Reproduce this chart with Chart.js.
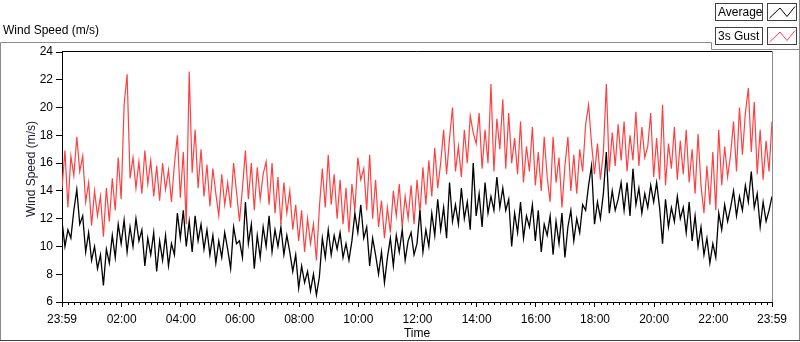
<!DOCTYPE html>
<html>
<head>
<meta charset="utf-8">
<script src="https://cdn.jsdelivr.net/npm/chart.js@4/dist/chart.umd.min.js"></script>
<style>
body { margin: 0; background: #fff; }
canvas { display: block; }
</style>
</head>
<body>
<canvas id="windChart" width="800" height="342"></canvas>
<script>
// samples every 6 minutes, starting at 23:59
const STEP = 6;

const tickTimes = [0, 121, 241, 361, 481, 601, 721, 841, 961, 1081, 1201, 1321, 1440];
const tickLabels = ["23:59", "02:00", "04:00", "06:00", "08:00", "10:00", "12:00",
                    "14:00", "16:00", "18:00", "20:00", "22:00", "23:59"];

// 3 second gust (m/s)
const gust = [
    14.2, 16.9, 12.8, 16.5, 15.1, 17.9, 15.4, 16.5, 13.2, 14.6,
    11.5, 14.0, 12.2, 13.6, 10.7, 14.2, 11.8, 14.9, 12.6, 16.4,
    13.4, 20.2, 22.4, 14.9, 16.4, 14.2, 16.1, 13.8, 16.9, 14.5,
    16.2, 13.6, 15.8, 13.3, 16.0, 14.1, 15.5, 13.2, 15.9, 18.0,
    13.5, 16.8, 11.6, 22.6, 15.3, 18.4, 14.2, 17.0, 13.6, 15.9,
    12.9, 15.6, 13.8, 12.2, 15.2, 13.0, 14.6, 12.8, 16.0, 13.9,
    11.8, 14.2, 16.9, 13.4, 16.0, 12.6, 15.7, 13.4, 15.2, 16.1,
    13.0, 16.0, 12.4, 15.0, 11.6, 14.6, 12.4, 14.0, 11.2, 13.0,
    10.4, 12.6, 9.6, 12.0, 10.2, 11.6, 9.0, 12.8, 15.6, 12.8,
    16.6, 13.0, 15.2, 12.0, 14.8, 11.6, 14.2, 11.0, 14.5, 12.6,
    16.4, 14.8, 15.6, 12.6, 16.6, 12.0, 14.8, 11.4, 13.3, 10.6,
    12.8, 11.0, 14.0, 12.2, 14.5, 11.4, 13.6, 12.0, 14.4, 11.6,
    14.8, 12.4, 15.7, 13.0, 16.2, 13.6, 17.1, 14.2, 16.0, 18.4,
    15.2, 17.8, 20.0, 15.4, 17.2, 15.0, 18.4, 16.0, 19.4, 18.2,
    17.4, 19.6, 15.6, 18.4, 16.0, 21.7, 15.4, 19.2, 17.0, 20.6,
    15.6, 19.6, 16.0, 17.8, 15.2, 19.0, 14.6, 17.2, 15.4, 18.6,
    14.4, 16.8, 14.0, 17.9, 15.0, 13.2, 17.9, 14.6, 16.4, 12.8,
    15.8, 17.9, 14.0, 16.6, 13.8, 17.0, 15.4, 18.8, 20.2, 17.4,
    15.2, 17.4, 14.8, 16.8, 21.7, 15.4, 18.2, 15.8, 18.8, 16.2,
    19.0, 15.4, 18.0, 16.2, 19.7, 15.8, 18.6, 16.4, 17.2, 19.6,
    15.0, 17.8, 14.8, 20.2, 14.4, 17.4, 15.6, 18.6, 14.8, 17.6,
    15.2, 18.4, 14.6, 17.0, 13.8, 18.1, 14.4, 12.4, 15.8, 13.0,
    16.8, 12.6, 18.4, 14.4, 17.2, 15.0, 16.6, 19.0, 15.4, 20.0,
    16.6, 19.6, 21.4, 16.8, 20.4, 15.2, 18.4, 14.8, 17.6, 15.4,
    19.0
];

// average wind speed (m/s)
const average = [
    11.8, 10.0, 11.2, 10.6, 12.6, 14.1, 11.6, 12.2, 9.6, 11.0,
    9.0, 10.0, 8.4, 9.4, 7.2, 9.8, 8.8, 10.8, 9.2, 11.6,
    10.2, 11.9, 9.6, 11.4, 10.0, 12.0, 10.4, 11.2, 8.6, 10.6,
    9.4, 11.0, 8.2, 10.4, 9.0, 10.8, 8.6, 10.2, 9.4, 12.4,
    10.6, 12.6, 10.0, 11.8, 9.6, 12.2, 10.4, 11.6, 9.8, 11.2,
    9.4, 10.8, 8.8, 10.4, 9.2, 11.0, 9.8, 8.4, 11.4, 10.2,
    10.4, 9.2, 13.2, 10.2, 11.6, 8.4, 10.8, 9.2, 11.4, 10.0,
    12.2, 9.6, 11.2, 10.0, 11.4, 9.4, 10.8, 9.6, 8.2, 9.4,
    7.0, 8.6, 7.4, 8.2, 6.8, 8.0, 6.5, 7.8, 10.6, 9.2,
    11.2, 9.4, 10.8, 9.8, 11.0, 9.2, 10.2, 9.0, 10.4, 12.4,
    11.0, 13.0, 10.6, 11.4, 8.6, 10.6, 9.4, 8.0, 9.6, 7.4,
    9.2, 10.6, 8.6, 10.8, 9.6, 11.2, 9.0, 10.4, 11.0, 9.4,
    10.2, 12.6, 9.6, 11.2, 10.0, 12.4, 10.8, 13.4, 11.2, 12.8,
    10.6, 14.6, 11.8, 13.0, 11.6, 14.2, 12.0, 13.2, 11.2, 16.0,
    12.2, 13.8, 11.4, 14.6, 12.4, 13.6, 12.6, 15.0, 12.8, 14.2,
    12.6, 13.4, 10.0, 12.4, 11.0, 13.2, 10.6, 12.2, 11.4, 13.0,
    10.4, 12.6, 9.6, 11.6, 10.8, 12.2, 9.4, 11.8, 10.2, 12.4,
    9.2, 11.4, 12.6, 10.4, 12.0, 11.0, 13.0, 12.6, 14.4, 15.8,
    11.6, 13.2, 12.0, 13.8, 16.8, 12.4, 14.0, 12.6, 13.4, 14.6,
    12.6, 14.6, 12.2, 15.6, 13.0, 14.2, 12.4, 13.8, 12.8, 14.4,
    13.2, 14.6, 12.8, 10.2, 13.4, 11.4, 12.8, 11.8, 13.6, 12.0,
    12.8, 11.0, 13.2, 10.4, 12.2, 10.0, 11.4, 9.4, 10.6, 8.8,
    10.2, 9.2, 12.4, 11.2, 13.0, 11.8, 12.8, 14.0, 12.2, 13.6,
    12.6, 14.4, 13.2, 15.4, 12.8, 13.8, 11.4, 13.2, 11.8, 12.6,
    13.6
];

const FONT = "'Liberation Sans', Arial, sans-serif";
Chart.defaults.font.family = FONT;
Chart.defaults.font.size = 12;
Chart.defaults.color = "#000";

function toPoints(values) {
    return values.map((v, i) => ({ x: i * STEP, y: v }));
}

// frame, minor ticks, legend and y title (LabVIEW style)
const framePlugin = {
    id: "frame",
    afterDraw(chart) {
        const ctx = chart.ctx;
        const area = chart.chartArea;
        const xs = chart.scales.x;
        ctx.save();
        ctx.lineWidth = 1;

        // minor ticks every 12 min
        ctx.strokeStyle = "#000";
        ctx.beginPath();
        for (let t = 1; t < 1440; t += 12) {
            if (tickTimes.some(m => Math.abs(m - t) < 3)) continue;
            const px = Math.round(xs.getPixelForValue(t)) + 0.5;
            ctx.moveTo(px, area.bottom);
            ctx.lineTo(px, area.bottom + 3);
        }
        // plot top border
        ctx.moveTo(area.left, area.top - 0.5);
        ctx.lineTo(area.right + 1, area.top - 0.5);
        ctx.stroke();

        ctx.strokeStyle = "#8c8c8c";
        ctx.beginPath();
        ctx.moveTo(area.right + 0.5, area.top - 1);
        ctx.lineTo(area.right + 0.5, area.bottom);
        ctx.stroke();

        // outer frame
        ctx.beginPath();
        ctx.moveTo(0.5, 340.5);
        ctx.lineTo(0.5, 42.5);
        ctx.lineTo(711.5, 42.5);
        ctx.lineTo(711.5, 49.5);
        ctx.lineTo(799.5, 49.5);
        ctx.moveTo(799.5, 0);
        ctx.lineTo(799.5, 340.5);
        ctx.stroke();
        ctx.strokeStyle = "#404040";
        ctx.beginPath();
        ctx.moveTo(0, 340.5);
        ctx.lineTo(800, 340.5);
        ctx.stroke();

        // title
        ctx.fillStyle = "#000";
        ctx.font = "12px " + FONT;
        ctx.textBaseline = "middle";
        ctx.textAlign = "left";
        ctx.fillText("Wind Speed (m/s)", 3, 31);

        // legend
        const entries = [["Average", "#000", 3], ["3s Gust", "#ff4444", 27]];
        entries.forEach(([label, color, y]) => {
            ctx.strokeStyle = "#404040";
            ctx.strokeRect(715.5, y + 0.5, 47, 17);
            ctx.strokeRect(767.5, y + 0.5, 29, 17);
            ctx.fillStyle = "#000";
            ctx.textAlign = "left";
            ctx.fillText(label, 718, y + 9.5);
            ctx.strokeStyle = color;
            ctx.beginPath();
            ctx.moveTo(769.5, y + 15);
            ctx.lineTo(780, y + 5);
            ctx.lineTo(787, y + 13.5);
            ctx.lineTo(795, y + 3.5);
            ctx.stroke();
        });

        // y axis title
        ctx.translate(32, 169);
        ctx.rotate(-Math.PI / 2);
        ctx.textAlign = "center";
        ctx.fillStyle = "#202030";
        ctx.fillText("Wind Speed (m/s)", 0, 0);
        ctx.restore();
    }
};

const ctx = document.getElementById("windChart").getContext("2d");
const windChart = new Chart(ctx, {
    type: "line",
    data: {
        datasets: [{
            label: "Average",
            data: toPoints(average),
            borderColor: "#000",
            borderWidth: 1.3,
            pointRadius: 0,
            tension: 0
        }, {
            label: "3s Gust",
            data: toPoints(gust),
            borderColor: "#ff4040",
            borderWidth: 1.2,
            pointRadius: 0,
            tension: 0
        }]
    },
    options: {
        responsive: false,
        animation: false,
        layout: { padding: { top: 52, right: 28, bottom: 0, left: 0 } },
        plugins: { legend: { display: false }, tooltip: { enabled: false } },
        scales: {
            x: {
                type: "linear",
                min: 0,
                max: 1440,
                afterFit: scale => { scale.height = 40; },
                afterBuildTicks: scale => {
                    scale.ticks = tickTimes.map(v => ({ value: v }));
                },
                ticks: {
                    autoSkip: false,
                    maxRotation: 0,
                    padding: 5,
                    callback: v => tickLabels[tickTimes.indexOf(v)]
                },
                grid: { drawOnChartArea: false, tickLength: 5, color: "#000" },
                border: { color: "#000" },
                title: { display: true, text: "Time", padding: { top: 0, bottom: 1 } }
            },
            y: {
                min: 6,
                max: 24,
                afterFit: scale => { scale.width = 62; },
                ticks: { stepSize: 2, padding: 3 },
                grid: { drawOnChartArea: false, tickLength: 6, color: "#000" },
                border: { color: "#000" }
            }
        }
    },
    plugins: [framePlugin]
});
</script>
</body>
</html>
